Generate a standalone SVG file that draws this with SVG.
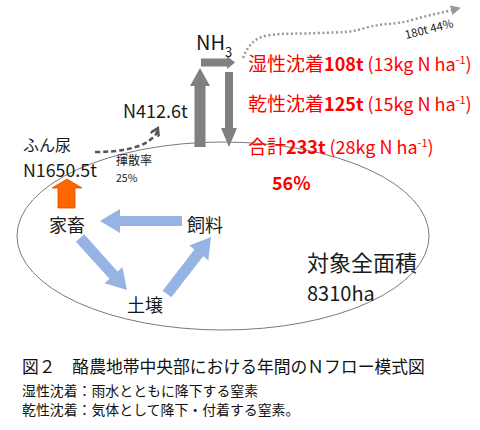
<svg xmlns="http://www.w3.org/2000/svg" width="480" height="430" viewBox="0 0 480 430">
<style>
text{font-family:"Noto Sans CJK JP","Noto Sans",sans-serif;fill:#1a1a1a}
.red{fill:#ff0000;font-size:18px}
.cj{font-size:19px}
.b{font-weight:bold}
.lbl{font-size:18px}
.cap{font-size:16.8px;fill:#111}
.cap2{font-size:13.9px;fill:#111}
.gray{fill:#808080}
.blue{fill:#95b3e3}
</style>
<defs>
<marker id="dh" viewBox="0 0 10 10" refX="6" refY="5" markerWidth="4" markerHeight="4" orient="auto">
<path d="M0,0 L8,5 L0,10" fill="none" stroke="#555" stroke-width="2.5"/>
</marker>
<marker id="gh" viewBox="0 0 10 10" refX="5" refY="5" markerWidth="4" markerHeight="4" orient="auto">
<path d="M0,0 L10,5 L0,10 Z" fill="#999"/>
</marker>
</defs>
<g id="area">
<ellipse cx="223" cy="236" rx="206" ry="94" fill="none" stroke="#7a7a7a" stroke-width="1"/>
</g>
<g id="connectors">
<polygon class="gray" points="200,68 210,86 205.5,86 205.5,147 194.5,147 194.5,86 190,86"/>
<polygon class="gray" points="201,58.5 227,58.5 227,56 235,62.5 227,69 227,66.5 201,66.5"/>
<polygon class="gray" points="225,72 233,72 233,128 237,128 229,147 221,128 225,128"/>
<path d="M243,58 C248,45 255,37 270,35 S300,34 320,33 S350,33 365,28 S395,25 412,20 S445,12 456,9" fill="none" stroke="#999" stroke-width="2.5" stroke-dasharray="2 2.5" marker-end="url(#gh)"/>
<path d="M95,152 C120,152 140,148 150,140 S156,132 157,130" fill="none" stroke="#555" stroke-width="2.5" stroke-dasharray="5 3" marker-end="url(#dh)"/>
<polygon fill="#ff6600" stroke="#d25000" stroke-width="0.8" points="67,179 82,188 75,188 75,208 58,208 58,188 52,188"/>
<path class="blue" transform="translate(182,221) rotate(180)" d="M0,-5 L62,-5 L62,-12 L82,0 L62,12 L62,5 L0,5 Z"/>
<path class="blue" transform="translate(80,238) rotate(47.9)" d="M0,-5.5 L50,-5.5 L50,-12 L70,0 L50,12 L50,5.5 L0,5.5 Z"/>
<path class="blue" transform="translate(167,294) rotate(-52.3)" d="M0,-5.5 L52,-5.5 L52,-12 L72,0 L52,12 L52,5.5 L0,5.5 Z"/>
</g>
<g id="nh3">
<text x="196" y="50" font-size="20">NH<tspan dy="7" font-size="13">3</tspan></text>
</g>
<g id="flux180">
<text transform="translate(406,39) rotate(-14)" font-size="11.5">180t  44%</text>
</g>
<g id="deposition">
<text class="red" x="248" y="71"><tspan class="cj">湿性沈着</tspan><tspan class="b">108t</tspan> (13kg N ha<tspan dy="-7" font-size="11">-1</tspan><tspan dy="7">)</tspan></text>
<text class="red" x="248" y="111"><tspan class="cj">乾性沈着</tspan><tspan class="b">125t</tspan> (15kg N ha<tspan dy="-7" font-size="11">-1</tspan><tspan dy="7">)</tspan></text>
<text class="red" x="248" y="154"><tspan class="cj">合計</tspan><tspan class="b">233t</tspan>  (28kg N ha<tspan dy="-7" font-size="11">-1</tspan><tspan dy="7">)</tspan></text>
<text class="red b" x="272" y="190" font-size="18.5">56%</text>
</g>
<g id="volatil">
<text x="123" y="118" font-size="18">N412.6t</text>
<text x="116" y="165" font-size="12">揮散率</text>
<text x="116" y="182" font-size="10.5" fill="#555">25%</text>
</g>
<g id="manure">
<text x="23" y="151" font-size="16">ふん尿</text>
<text x="23" y="177" font-size="17.8">N1650.5t</text>
</g>
<g id="livestock"><text class="lbl" x="49" y="232">家畜</text></g>
<g id="feed"><text class="lbl" x="187" y="232">飼料</text></g>
<g id="soil"><text class="lbl" x="127" y="312">土壌</text></g>
<g id="total">
<text x="307" y="271" font-size="22">対象全面積</text>
<text x="307" y="301" font-size="20">8310ha</text>
</g>
<g id="caption">
<text class="cap" x="22" y="373">図２　酪農地帯中央部における年間のＮフロー模式図</text>
<text class="cap2" x="22" y="396">湿性沈着：雨水とともに降下する窒素</text>
<text class="cap2" x="22" y="415">乾性沈着：気体として降下・付着する窒素。</text>
</g>
</svg>
